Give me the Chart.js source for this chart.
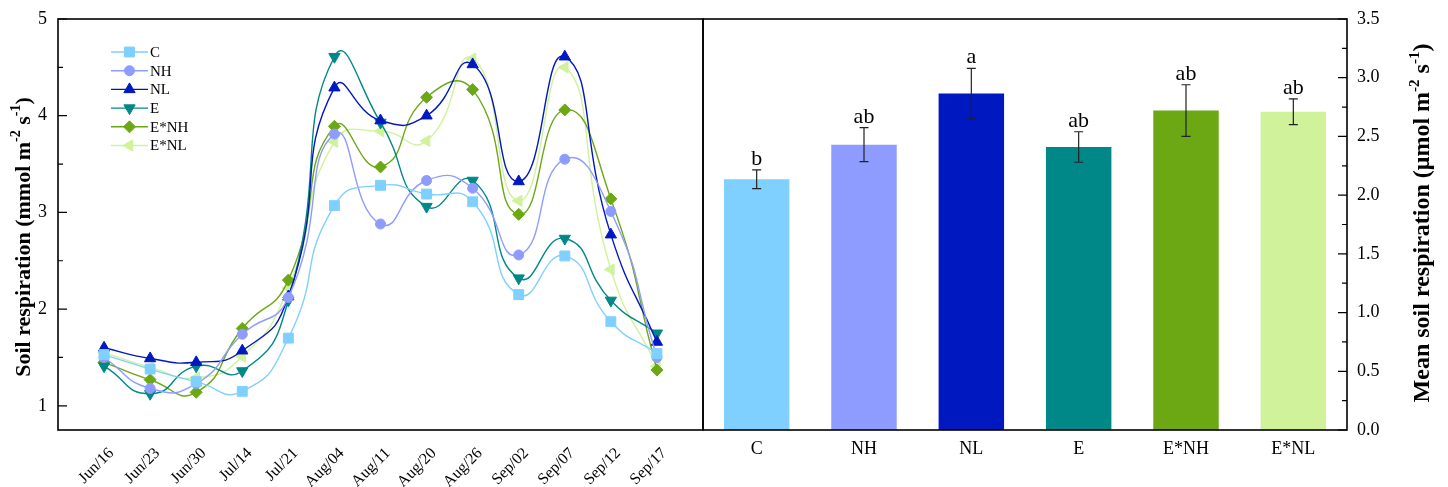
<!DOCTYPE html>
<html><head><meta charset="utf-8">
<script src="https://cdn.jsdelivr.net/npm/chart.js@4/dist/chart.umd.min.js"></script>
<style>
html,body{margin:0;padding:0;background:#fff;width:1448px;height:487px;overflow:hidden}
#w1{position:absolute;left:0;top:0;width:704px;height:487px}
#w2{position:absolute;left:690px;top:0;width:758px;height:487px}
</style></head><body>
<div id="w1"><canvas id="c1"></canvas></div>
<div id="w2"><canvas id="c2"></canvas></div>
<script>
// ---------- data ----------
const dates = ['Jun/16','Jun/23','Jun/30','Jul/14','Jul/21','Aug/04','Aug/11','Aug/20','Aug/26','Sep/02','Sep/07','Sep/12','Sep/17'];
const seriesNames = ['C','NH','NL','E','E*NH','E*NL'];
const valC   = [1.53, 1.38, 1.25, 1.15, 1.70, 3.07, 3.28, 3.19, 3.11, 2.15, 2.55, 1.87, 1.54];
const valNH  = [1.50, 1.18, 1.23, 1.74, 2.12, 3.81, 2.88, 3.33, 3.25, 2.56, 3.55, 3.01, 1.50];
const valNL  = [1.60, 1.49, 1.45, 1.57, 2.13, 4.29, 3.95, 4.00, 4.53, 3.32, 4.61, 2.77, 1.66];
const valE   = [1.41, 1.125, 1.41, 1.36, 2.09, 4.61, 3.93, 3.06, 3.33, 2.32, 2.73, 2.09, 1.75];
const valENH = [1.45, 1.27, 1.14, 1.80, 2.30, 3.89, 3.47, 4.19, 4.27, 2.98, 4.06, 3.14, 1.37];
const valENL = [1.55, 1.40, 1.29, 1.51, 2.22, 3.73, 3.84, 3.74, 4.59, 3.12, 4.50, 2.41, 1.41];
const leftYTicks = [1, 2, 3, 4, 5];

const treatments = ['C','NH','NL','E','E*NH','E*NL'];
const meanResp = [2.135, 2.43, 2.865, 2.41, 2.72, 2.71];
const meanErr  = [0.08, 0.145, 0.215, 0.13, 0.22, 0.11];
const sigLetters = ['b','ab','a','ab','ab','ab'];
const rightYTicks = [0, 0.5, 1.0, 1.5, 2.0, 2.5, 3.0, 3.5];

// ---------- styles ----------
const colors = ['#80D0FF','#8F9CFF','#0018C0','#008888','#6BA814','#CFF29A'];
const pStyles = ['rect','circle','triangle','triangle','rectRot','triangle'];
const pRot = [0,0,0,180,0,270];
const pRad = [7,5,6.5,6.5,6,6.5];
const SERIF = '"Liberation Serif","Times New Roman",serif';
const LABEL_SHIFT = 0.16; // rotated date labels sit slightly right of their point

function marker(ctx, style, x, y, r, color, rot){
  ctx.save(); ctx.fillStyle=color; ctx.strokeStyle=color; ctx.lineWidth=1;
  ctx.beginPath();
  if(style==='rect'){const s=r*Math.SQRT1_2; ctx.rect(x-s,y-s,2*s,2*s);}
  else if(style==='circle'){ctx.arc(x,y,r,0,2*Math.PI);}
  else if(style==='rectRot'){ctx.moveTo(x,y-r);ctx.lineTo(x+r,y);ctx.lineTo(x,y+r);ctx.lineTo(x-r,y);}
  else { let a=rot*Math.PI/180; for(let i=0;i<3;i++){const px=x+Math.sin(a)*r, py=y-Math.cos(a)*r; if(i===0)ctx.moveTo(px,py); else ctx.lineTo(px,py); a+=2*Math.PI/3;} }
  ctx.closePath(); ctx.fill(); ctx.stroke(); ctx.restore();
}

function drawVTitle(ctx, cx, cy, parts, size){
  ctx.save();
  ctx.translate(cx, cy); ctx.rotate(-Math.PI/2);
  const big = 'bold '+size+'px '+SERIF, small = 'bold '+Math.round(size*0.62)+'px '+SERIF;
  let total=0;
  parts.forEach(p=>{ctx.font=p.sup?small:big; p.w=ctx.measureText(p.t).width; total+=p.w;});
  let x=-total/2; ctx.fillStyle='#000'; ctx.textBaseline='alphabetic'; ctx.textAlign='left';
  parts.forEach(p=>{ctx.font=p.sup?small:big; ctx.fillText(p.t, x, p.sup? size*0.35-size*0.42 : size*0.35); x+=p.w;});
  ctx.restore();
}

function fixScale(w, h){
  return function(s){ if(w!=null) s.width=w; if(h!=null) s.height=h; s.paddingLeft=0; s.paddingRight=0; s.paddingTop=0; s.paddingBottom=0; };
}

// ---------- left chart ----------
const seriesVals = [valC, valNH, valNL, valE, valENH, valENL];
const lineDatasets = seriesNames.map((n,i)=>({
  label:n,
  data: seriesVals[i].map((v,k)=>({x:k, y:v})),
  borderColor: colors[i], backgroundColor: colors[i],
  borderWidth: 1.4, tension: 0.55,
  pointStyle: pStyles[i], pointRotation: pRot[i], pointRadius: pRad[i],
  pointBorderWidth: 1, pointBorderColor: colors[i], pointBackgroundColor: colors[i]
}));

const leftPlugin = {
  id:'leftDeco',
  afterDraw(chart){
    const ctx=chart.ctx, a=chart.chartArea, y=chart.scales.y;
    ctx.save();
    ctx.strokeStyle='#000'; ctx.lineWidth=1.6;
    ctx.strokeRect(a.left, a.top, a.right-a.left, a.bottom-a.top);
    ctx.lineWidth=1.2; ctx.beginPath();
    for(let v=1; v<=5.001; v+=0.5){
      const py=y.getPixelForValue(v); const len = Math.abs(v-Math.round(v))<1e-6 ? 9 : 5;
      ctx.moveTo(a.left, py); ctx.lineTo(a.left+len, py);
    }
    ctx.stroke();
    ctx.font='15px '+SERIF; ctx.textBaseline='middle'; ctx.textAlign='left';
    seriesNames.forEach((n,i)=>{
      const ly = 52 + i*18.7;
      ctx.strokeStyle=colors[i]; ctx.lineWidth=1.4; ctx.beginPath(); ctx.moveTo(111,ly); ctx.lineTo(148,ly); ctx.stroke();
      marker(ctx, pStyles[i], 129.5, ly, pRad[i], colors[i], pRot[i]);
      ctx.fillStyle='#000'; ctx.fillText(n, 150, ly+1);
    });
    drawVTitle(ctx, 22, 237, [{t:'Soil respiration (mmol m'},{t:'-2',sup:true},{t:' s'},{t:'-1',sup:true},{t:')'}], 22);
    ctx.restore();
  }
};

new Chart(document.getElementById('c1'), {
  type:'line',
  data:{datasets: lineDatasets},
  options:{
    responsive:true, maintainAspectRatio:false, animation:false,
    layout:{autoPadding:false, padding:{left:0, right:1, top:19, bottom:0}},
    plugins:{legend:{display:false}, tooltip:{enabled:false}},
    scales:{
      x:{type:'linear', min:-1, max:13,
        afterBuildTicks(s){ s.ticks = dates.map((d,k)=>({value:k+LABEL_SHIFT})); },
        afterFit: fixScale(null, 57),
        grid:{display:false, tickLength:0}, border:{display:false},
        ticks:{autoSkip:false, minRotation:45, maxRotation:45, padding:14, color:'#000',
          font:{family:SERIF, size:16}, callback:(v)=>dates[Math.round(v-LABEL_SHIFT)] ?? ''}
      },
      y:{type:'linear', min:0.75, max:5,
        afterBuildTicks(s){ s.ticks = leftYTicks.map(v=>({value:v})); },
        afterFit: fixScale(58, null),
        grid:{display:false, tickLength:0}, border:{display:false},
        ticks:{padding:11, color:'#000', font:{family:SERIF, size:18}, callback:(v)=>String(v)}
      }
    }
  },
  plugins:[leftPlugin]
});

// ---------- right chart ----------
const rightPlugin = {
  id:'rightDeco',
  afterDraw(chart){
    const ctx=chart.ctx, a=chart.chartArea, y=chart.scales.y, x=chart.scales.x;
    ctx.save();
    ctx.strokeStyle='#222'; ctx.lineWidth=1.2;
    meanResp.forEach((m,i)=>{
      const px=x.getPixelForValue(i), hi=y.getPixelForValue(m+meanErr[i]), lo=y.getPixelForValue(m-meanErr[i]);
      ctx.beginPath(); ctx.moveTo(px,hi); ctx.lineTo(px,lo);
      ctx.moveTo(px-4.5,hi); ctx.lineTo(px+4.5,hi); ctx.moveTo(px-4.5,lo); ctx.lineTo(px+4.5,lo); ctx.stroke();
      ctx.fillStyle='#000'; ctx.font='22px '+SERIF; ctx.textAlign='center'; ctx.textBaseline='alphabetic';
      ctx.fillText(sigLetters[i], px, hi-5);
    });
    ctx.strokeStyle='#000'; ctx.lineWidth=1.6;
    ctx.strokeRect(a.left, a.top, a.right-a.left, a.bottom-a.top);
    ctx.lineWidth=1.2; ctx.beginPath();
    for(let v=0; v<=3.5001; v+=0.25){
      const py=y.getPixelForValue(v); const len = Math.abs(v*2-Math.round(v*2))<1e-6 ? 9 : 5;
      ctx.moveTo(a.right, py); ctx.lineTo(a.right-len, py);
    }
    ctx.stroke();
    drawVTitle(ctx, 1421-690, 223, [{t:'Mean soil respiration (\u03bcmol m'},{t:'-2',sup:true},{t:' s'},{t:'-1',sup:true},{t:')'}], 24);
    ctx.restore();
  }
};

new Chart(document.getElementById('c2'), {
  type:'bar',
  data:{labels: treatments, datasets:[{data: meanResp, backgroundColor: colors, borderWidth:0,
    barPercentage:0.61, categoryPercentage:1.0}]},
  options:{
    responsive:true, maintainAspectRatio:false, animation:false,
    layout:{autoPadding:false, padding:{left:13, right:0, top:19, bottom:0}},
    plugins:{legend:{display:false}, tooltip:{enabled:false}},
    scales:{
      x:{type:'category', offset:true, afterFit: fixScale(null, 57),
        grid:{display:false, tickLength:0}, border:{display:false},
        ticks:{maxRotation:0, minRotation:0, padding:8, color:'#000', font:{family:SERIF, size:18}}
      },
      y:{type:'linear', position:'right', min:0, max:3.5,
        afterBuildTicks(s){ s.ticks = rightYTicks.map(v=>({value:v})); },
        afterFit: fixScale(101, null),
        grid:{display:false, tickLength:0}, border:{display:false},
        ticks:{padding:10, color:'#000', font:{family:SERIF, size:18}, callback:(v)=>Number(v).toFixed(1)}
      }
    }
  },
  plugins:[rightPlugin]
});
</script>
</body></html>
